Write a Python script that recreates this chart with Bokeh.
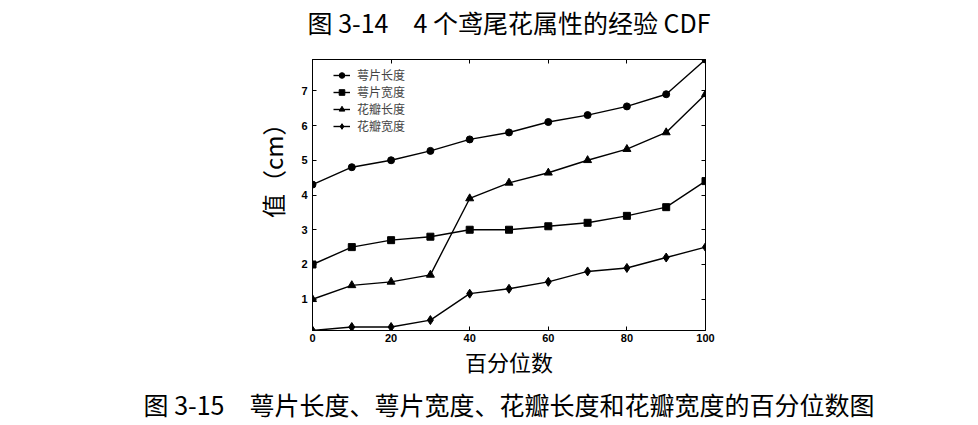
import numpy as np
from bokeh.plotting import figure
from bokeh.models import (Legend, LegendItem, LinearAxis, Range1d,
                          FixedTicker, Title)
from bokeh.embed import file_html
from bokeh.resources import INLINE

percentiles = [0, 10, 20, 30, 40, 50, 60, 70, 80, 90, 100]
sepal_length = [4.3, 4.8, 5.0, 5.27, 5.6, 5.8, 6.1, 6.3, 6.55, 6.9, 7.9]
sepal_width = [2.0, 2.5, 2.7, 2.8, 3.0, 3.0, 3.1, 3.2, 3.4, 3.65, 4.4]
petal_length = [1.0, 1.4, 1.5, 1.7, 3.9, 4.35, 4.64, 5.0, 5.32, 5.8, 6.9]
petal_width = [0.1, 0.2, 0.2, 0.4, 1.16, 1.3, 1.5, 1.8, 1.9, 2.2, 2.5]
series_names = ["萼片长度", "萼片宽度", "花瓣长度", "花瓣宽度"]
x_ticks = [0, 20, 40, 60, 80, 100]
y_ticks = [1, 2, 3, 4, 5, 6, 7]

title_text = "图 3-14　4 个鸢尾花属性的经验 CDF"
caption_text = "图 3-15　萼片长度、萼片宽度、花瓣长度和花瓣宽度的百分位数图"
x_label = "百分位数"
y_label = "值（cm）"

CJK = "Noto Sans CJK SC"

p = figure(width=978, height=425, output_backend="svg", toolbar_location=None,
           x_range=Range1d(0, 100), y_range=Range1d(0.1, 7.9),
           min_border_left=312, min_border_right=273, min_border_top=59,
           min_border_bottom=95, background_fill_color="white",
           border_fill_color="white", outline_line_color="black",
           outline_line_width=1)
p.grid.visible = False
p.title = None


def style_axis(ax, labels=True):
    ax.axis_line_color = "black"
    ax.axis_line_width = 1
    ax.major_tick_in = 4
    ax.major_tick_out = 0
    ax.minor_tick_in = 0
    ax.minor_tick_out = 0
    ax.major_tick_line_color = "black"
    ax.major_label_text_font = "Arial, Liberation Sans"
    ax.major_label_text_font_size = "11px"
    ax.major_label_text_font_style = "bold"
    ax.major_label_text_color = "black"
    ax.major_label_standoff = 5
    if not labels:
        ax.major_label_text_alpha = 0
        ax.major_label_text_font_size = "1px"
        ax.major_label_standoff = 0


p.xaxis.ticker = FixedTicker(ticks=x_ticks)
p.yaxis.ticker = FixedTicker(ticks=y_ticks)
style_axis(p.xaxis[0])
style_axis(p.yaxis[0])
p.xaxis.major_label_standoff = 3

p.xaxis.axis_label = x_label
p.xaxis.axis_label_text_font = CJK
p.xaxis.axis_label_text_font_size = "22px"
p.xaxis.axis_label_text_font_style = "normal"
p.xaxis.axis_label_text_color = "black"
p.xaxis.axis_label_standoff = 0

top_ax = LinearAxis(ticker=FixedTicker(ticks=x_ticks))
right_ax = LinearAxis(ticker=FixedTicker(ticks=y_ticks))
style_axis(top_ax, labels=False)
style_axis(right_ax, labels=False)
# figure title carried by the top axis label
top_ax.axis_label = title_text
top_ax.axis_label_text_font = CJK
top_ax.axis_label_text_font_size = "25px"
top_ax.axis_label_text_font_style = "normal"
top_ax.axis_label_text_color = "black"
top_ax.axis_label_standoff = 20
p.add_layout(top_ax, "above")
p.add_layout(right_ax, "right")

series = [sepal_length, sepal_width, petal_length, petal_width]
markers = ["circle", "square", "triangle", "diamond"]
sizes = [7, 7, 8, 9]
items = []
for name, ys, mk, sz in zip(series_names, series, markers, sizes):
    ln = p.line(percentiles, ys, line_color="black", line_width=1.4)
    sc = p.scatter(percentiles, ys, marker=mk, size=sz, fill_color="black",
                   line_color="black")
    items.append(LegendItem(label=name, renderers=[ln, sc]))

legend = Legend(items=items, location=(21, 196), border_line_color=None,
                background_fill_alpha=0, label_text_font=CJK,
                label_text_font_size="12px", glyph_width=17, glyph_height=14,
                label_height=14, spacing=0, padding=0, margin=0,
                label_standoff=7)
p.add_layout(legend)

ylab = Title(text=y_label, align="right", offset=52, text_font=CJK,
             text_font_size="24px", text_font_style="normal",
             text_color="black", standoff=17)
p.add_layout(ylab, "left")

cap = Title(text=caption_text, align="center", text_font=CJK,
            text_font_size="25px", text_font_style="normal",
            text_color="black", standoff=8)
p.add_layout(cap, "below")

open("out.html", "w").write(file_html(p, INLINE))
